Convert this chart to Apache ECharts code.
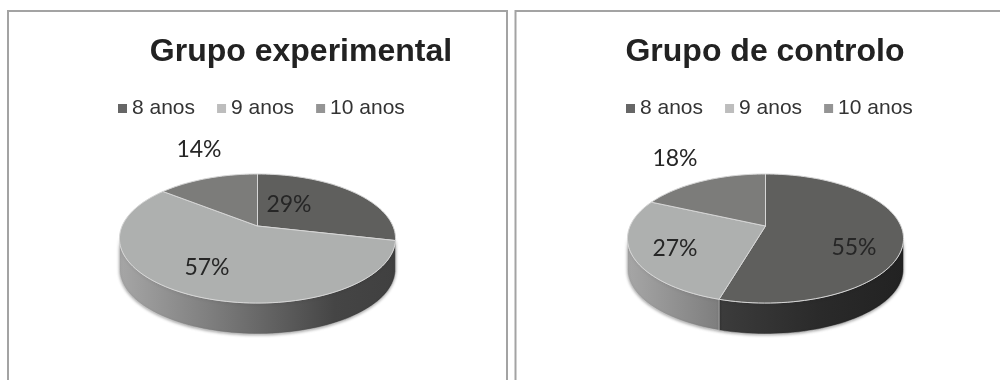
<!DOCTYPE html>
<html><head><meta charset="utf-8">
<style>html,body{margin:0;padding:0;background:#fff}#c{width:1000px;height:380px}</style>
<script src="https://cdn.jsdelivr.net/npm/echarts@6/dist/echarts.min.js"></script>
</head><body><div id="c"></div>
<script>
const categories = ['8 anos', '9 anos', '10 anos'];
const experimental = [28.6, 57.1, 14.3];
const controlo = [54.5, 27.3, 18.2];
const titles = ['Grupo experimental', 'Grupo de controlo'];

// layout and style, kept apart from the data
const panelCenters = [257.5, 765.5];
const titleCenters = [301, 765];
const legendLefts = [118, 626];
const labelOffsets = [
  [[31.5, -21], [-50.5, 42], [-58.5, -76]],
  [[88.5, 22], [-90.5, 23], [-90.5, -67]]
];
const topColors = ['#5f5f5d', '#aeb0af', '#7c7c7a'];
const legendColors = ['#666666', '#bdbdbd', '#949494'];
const wallStops = [
  [[0, '#454545'], [0.33, '#3c3c3c'], [0.7, '#2a2a2a'], [1, '#222222']],
  [[0, '#a6a6a6'], [0.33, '#7e7e7e'], [0.55, '#626262'], [0.78, '#454545'], [1, '#404040']],
  [[0, '#777777'], [1, '#555555']]
];
const apexY = 226, A = 135.4, B = 62.1, K = 0.194, DEPTH = 31, RX = 138;

function project(cx, deg, r) {
  const t = deg * Math.PI / 180;
  const u = r * Math.sin(t), v = r * Math.cos(t), w = 1 + K * v;
  return [cx + A * u / w, apexY - B * v / w];
}
function arc(cx, from, to, dy) {
  const n = Math.max(2, Math.ceil(Math.abs(to - from) / 2));
  const pts = [];
  for (let i = 0; i <= n; i++) {
    const p = project(cx, from + (to - from) * i / n, 1);
    pts.push([p[0], p[1] + dy]);
  }
  return pts;
}
const visFrom = Math.acos(-K) * 180 / Math.PI, visTo = 360 - visFrom;

function makeSeries(values, panel) {
  const cx = panelCenters[panel];
  const total = values.reduce((a, b) => a + b, 0);
  return values.map((val, idx) => {
    const before = values.slice(0, idx).reduce((a, b) => a + b, 0);
    return {
      type: 'custom',
      name: categories[idx],
      coordinateSystem: 'none',
      silent: true,
      itemStyle: { color: legendColors[idx] },
      data: [[val]],
      renderItem: (params, api) => {
        const v = api.value(0);
        const a0 = before / total * 360, a1 = a0 + v / total * 360;
        const children = [];
        const w0 = Math.max(a0, visFrom), w1 = Math.min(a1, visTo);
        if (w1 > w0) {
          const top = arc(cx, w0, w1, 0), bot = arc(cx, w1, w0, DEPTH);
          children.push({
            type: 'polygon', z2: 0,
            shape: { points: top.concat(bot) },
            style: {
              fill: new echarts.graphic.LinearGradient(cx - RX, 0, cx + RX, 0,
                wallStops[idx].map(s => ({ offset: s[0], color: s[1] })), true),
              stroke: 'rgba(225,225,225,0.7)', lineWidth: 0.6,
              shadowColor: 'rgba(0,0,0,0.35)', shadowBlur: 3, shadowOffsetY: 1
            }
          });
        }
        const face = [[cx, apexY]].concat(arc(cx, a0, a1, 0));
        children.push({
          type: 'polygon', z2: 2,
          shape: { points: face },
          style: { fill: topColors[idx], stroke: '#d6d6d6', lineWidth: 1, lineJoin: 'round' }
        });
        const off = labelOffsets[panel][idx];
        children.push({
          type: 'text', z2: 5,
          x: cx + off[0], y: apexY + off[1],
          style: {
            text: Math.round(v / total * 100) + '%',
            font: '23px Lato', fill: '#262626',
            align: 'center', verticalAlign: 'middle'
          }
        });
        return { type: 'group', children };
      }
    };
  });
}

const chart = echarts.init(document.getElementById('c'), null, { renderer: 'canvas' });
chart.setOption({
  backgroundColor: '#ffffff',
  animation: false,
  title: titles.map((t, i) => ({
    text: t, left: titleCenters[i], top: 36, padding: 0, textAlign: 'center',
    textStyle: { fontFamily: 'Liberation Sans', fontWeight: 'bold', fontSize: 32, color: '#222222' }
  })),
  legend: legendLefts.map(l => ({
    data: categories, left: l, top: 98, orient: 'horizontal', selectedMode: false, padding: 0,
    icon: 'rect', itemWidth: 9, itemHeight: 9, itemGap: 22,
    textStyle: { fontFamily: 'Liberation Sans', fontSize: 21, color: '#333333' }
  })),
  graphic: [
    { type: 'rect', shape: { x: 8, y: 11, width: 499, height: 400 }, style: { fill: 'none', stroke: '#a3a3a3', lineWidth: 2 }, silent: true },
    { type: 'rect', shape: { x: 515.5, y: 11, width: 520, height: 400 }, style: { fill: 'none', stroke: '#a3a3a3', lineWidth: 2 }, silent: true }
  ],
  series: makeSeries(experimental, 0).concat(makeSeries(controlo, 1))
});
</script></body></html>
